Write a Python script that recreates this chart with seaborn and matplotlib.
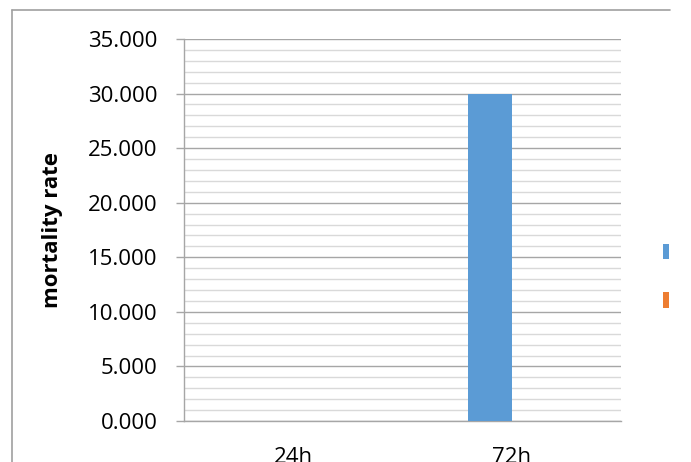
import matplotlib
matplotlib.use("Agg")
import matplotlib.pyplot as plt
import matplotlib.ticker as mticker
from matplotlib.lines import Line2D
from matplotlib.patches import Patch
import pandas as pd
import seaborn as sns

# data
categories = ["24h", "72h"]
series_names = ["Series1", "Series2"]
series1 = [0.0, 30.0]
series2 = [0.0, 0.0]
y_ticks = [0, 5, 10, 15, 20, 25, 30, 35]

colors = ["#5B9BD5", "#ED7D31"]

df = pd.DataFrame({
    "time": categories * 2,
    "series": [series_names[0]] * 2 + [series_names[1]] * 2,
    "value": series1 + series2,
})

sns.set_theme(style="white")
plt.rcParams["font.family"] = ["Open Sans", "DejaVu Sans"]

fig = plt.figure(figsize=(6.91, 4.62), dpi=100)
ax = fig.add_axes([184 / 691, 1 - 421 / 462, 437 / 691, 382 / 462])

sns.barplot(data=df, x="time", y="value", hue="series", palette=colors,
            width=0.403, saturation=1, linewidth=0, errorbar=None,
            ax=ax, legend=False, zorder=3)

ax.set_ylim(0, 35)
ax.set_xlim(-0.5, 1.5)
ax.yaxis.set_major_locator(mticker.FixedLocator(y_ticks))
ax.yaxis.set_minor_locator(mticker.MultipleLocator(1))
ax.yaxis.set_major_formatter(mticker.FormatStrFormatter("%.3f"))
ax.grid(which="minor", axis="y", color="#D9D9D9", linewidth=1.0, zorder=0)
ax.grid(which="major", axis="y", color="#A6A6A6", linewidth=1.0, zorder=1)
ax.set_axisbelow(True)

for side in ["top", "right"]:
    ax.spines[side].set_visible(False)
for side in ["left", "bottom"]:
    ax.spines[side].set_color("#A6A6A6")
    ax.spines[side].set_linewidth(1.0)

ax.tick_params(axis="y", which="major", direction="out", length=6, width=1,
               color="#A6A6A6", pad=13, labelsize=16, labelcolor="black", left=True)
ax.tick_params(axis="y", which="minor", length=0)
ax.tick_params(axis="x", length=0, pad=19, labelsize=16, labelcolor="black")

ax.set_xlabel("")
ax.set_ylabel("mortality rate", fontsize=16, fontweight="bold", color="black")
ax.yaxis.set_label_coords(-0.277, 0.5)

# legend, labels run off the right edge like the reference
handles = [Patch(facecolor=c, edgecolor="none") for c in colors]
fig.legend(handles, series_names, loc="center left",
           bbox_to_anchor=(663 / 691, 1 - 278 / 462), frameon=False,
           fontsize=16, handlelength=0.27, handleheight=0.68,
           handletextpad=1.3, labelspacing=1.25, borderpad=0, borderaxespad=0)

# chart area border (left and top)
fig.add_artist(Line2D([12 / 691, 12 / 691], [0, 1 - 10 / 462],
                      color="#A0A0A0", linewidth=1.2))
fig.add_artist(Line2D([12 / 691, 670 / 691], [1 - 10 / 462, 1 - 10 / 462],
                      color="#A0A0A0", linewidth=1.2))

fig.savefig("out.png", dpi=100)
